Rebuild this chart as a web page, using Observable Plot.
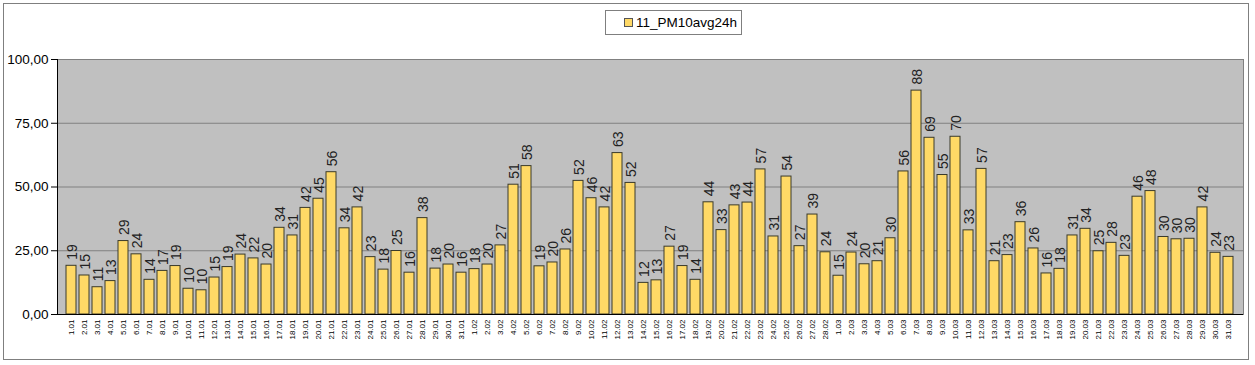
<!DOCTYPE html>
<html>
<head>
<meta charset="utf-8">
<script src="https://cdn.jsdelivr.net/npm/d3@7"></script>
<script src="https://cdn.jsdelivr.net/npm/@observablehq/plot@0.6"></script>
<style>
  html, body { margin: 0; padding: 0; background: #fff; }
  #wrap { position: relative; width: 1255px; height: 365px; font-family: "Liberation Sans", Arial, sans-serif; }
  #border { position: absolute; left: 3px; top: 3px; width: 1246px; height: 357px; border: 1px solid #7f7f7f; box-sizing: border-box; pointer-events: none; }
  #legend { position: absolute; left: 605px; top: 10px; width: 137px; height: 25px; border: 1px solid #7f7f7f; box-sizing: border-box; background: #fff; font-size: 13.5px; color: #000; display: flex; align-items: center; padding-left: 18px; }
  #legend .sw { width: 7px; height: 7px; background: #FFD966; border: 1px solid #555; margin-right: 3px; }
  #chart { position: absolute; left: 0; top: 0; }
</style>
</head>
<body>
<div id="wrap">
  <div id="chart"></div>
  <div id="border"></div>
  <div id="legend"><div class="sw"></div><span>11_PM10avg24h</span></div>
</div>
<script>
const seriesName = "11_PM10avg24h";
const janValues = [19.1,15.3,10.7,13.1,28.8,23.6,13.6,17.1,19.0,10.1,9.5,14.5,18.6,23.5,22.0,19.6,34.0,31.0,41.8,45.4,55.8,33.8,42.0,22.5,17.6,24.9,16.4,37.8,18.0,19.6,16.4];
const febValues = [17.8,19.6,27.1,50.9,58.2,18.9,20.4,25.5,52.4,45.6,42.0,63.3,51.6,12.4,13.4,26.6,19.0,13.6,44.0,33.1,42.8,43.9,56.9,30.6,54.1,26.8,39.2,24.4];
const marValues = [15.2,24.3,19.7,20.9,29.9,56.1,87.8,69.3,54.7,69.7,33.0,57.1,20.9,23.3,36.2,25.9,16.1,17.9,31.0,33.6,24.8,28.1,23.0,46.2,48.4,30.4,29.5,29.7,42.0,24.2,22.6];
const months = [{m: "01", values: janValues}, {m: "02", values: febValues}, {m: "03", values: marValues}];
const yTicks = [0, 25, 50, 75, 100];

const data = [];
for (const {m, values} of months) values.forEach((v, i) => data.push({day: `${i + 1}.${m}`, value: v}));
const days = data.map(d => d.day);
const fmt = v => d3.format(".2f")(v).replace(".", ",");

const chart = Plot.plot({
  width: 1255,
  height: 365,
  marginLeft: 57,
  marginRight: 12,
  marginTop: 59,
  marginBottom: 51,
  style: {fontFamily: "'Liberation Sans', Arial, sans-serif", background: "transparent", color: "#000"},
  x: {type: "band", domain: days, padding: 0.2, label: null},
  y: {domain: [0, 100], label: null},
  marks: [
    Plot.frame({fill: "#C0C0C0", stroke: "#808080"}),
    Plot.ruleY(yTicks.filter(t => t > 0), {stroke: "#808080", strokeWidth: 1}),
    Plot.barY(data, {x: "day", y: "value", fill: "#FFD966", stroke: "#3a3a2a", strokeWidth: 1}),
    Plot.text(data, {x: "day", y: "value", text: d => String(Math.round(d.value)), rotate: -90, textAnchor: "start", dy: -6, dx: 1, fontSize: 14, fill: "#222"}),
    Plot.ruleY([0], {stroke: "#000"}),
    Plot.frame({anchor: "left", stroke: "#000"}),
    Plot.axisY({ticks: yTicks, tickFormat: fmt, tickSize: 6, tickPadding: 3, fontSize: 13.5, label: null}),
    Plot.axisX({tickRotate: -90, tickSize: 0, tickPadding: 5, fontSize: 8, label: null})
  ]
});
document.getElementById("chart").appendChild(chart);
</script>
</body>
</html>
